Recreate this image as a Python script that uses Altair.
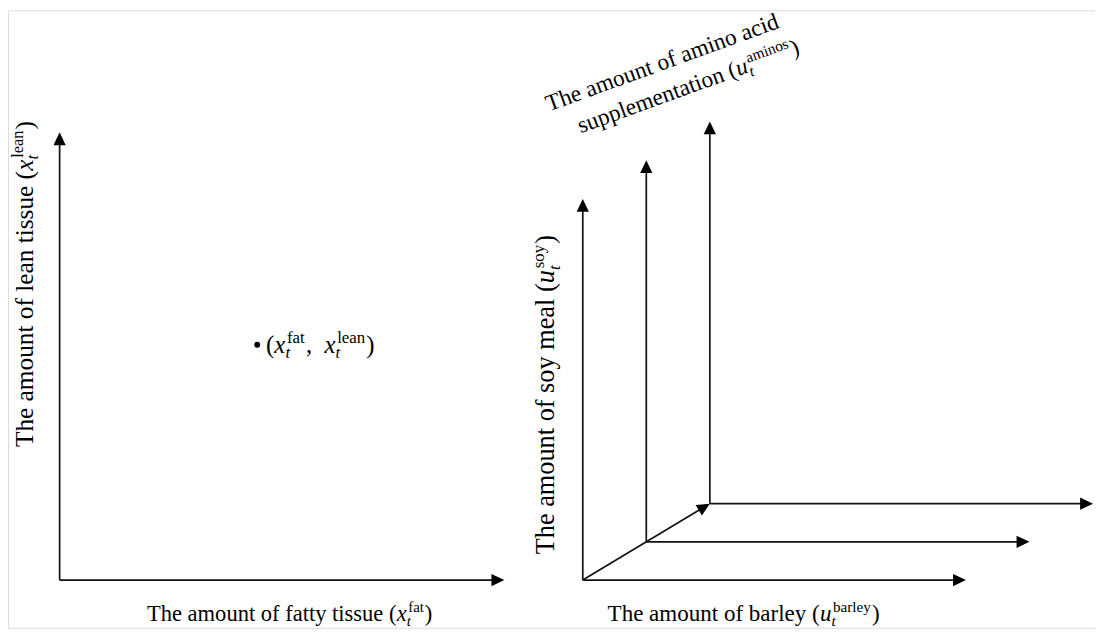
import math
import altair as alt
import pandas as pd

# ---------------- data (page coordinates of the diagram axes) ----------------
# left panel: origin, x-axis tip, y-axis tip
left_origin = (60, 582)
left_xtip = (508, 582)
left_ytip = (60, 131)
# right panel: three axis-corner points (origin shifted along a diagonal)
corner_x = [587, 651, 715]
corner_y = [582, 543.5, 505]
h_tip_x = [973, 1037, 1101]
v_tip_y = [198, 159, 120]
# the labelled state point
point_xy = (259, 345)

# ---------------- text ----------------
FONT = "Liberation Serif"

REG = {" ": 250, "(": 333, ")": 333, ",": 250, "T": 611, "a": 444, "b": 500, "c": 444,
       "d": 500, "e": 444, "f": 333, "g": 500, "h": 500, "i": 278, "j": 278, "k": 500,
       "l": 278, "m": 778, "n": 500, "o": 500, "p": 500, "q": 500, "r": 333, "s": 389,
       "t": 278, "u": 500, "v": 500, "w": 722, "x": 500, "y": 500, "z": 444}
ITA = {"x": 444, "u": 500, "t": 278}


def width(txt, size, italic=False):
    tab = ITA if italic else REG
    return sum(tab.get(c, REG.get(c, 500)) for c in txt) * size / 1000.0


def sym(var, sup):
    """variable with subscript t and upright superscript"""
    return [("v", var), ("subsup", sup)]


def compose(parts, x0, y0, angle, main=23.0, small=15.0):
    """rows of text runs laid along a baseline rotated by angle (deg, clockwise)"""
    a = math.radians(angle)
    dx, dy = math.cos(a), math.sin(a)
    px, py = -math.sin(a), math.cos(a)  # "down" direction of the glyphs
    rows = []
    cur = 0.0
    k = main / 23.0

    def put(txt, size, italic, off, shift=0.0):
        c = cur + shift
        rows.append(dict(text=txt, x=x0 + dx * c + px * off, y=y0 + dy * c + py * off,
                         size=size, italic=italic, angle=angle % 360))

    for kind, txt in parts:
        if kind == "r":
            put(txt, main, False, 0)
            cur += width(txt, main)
        elif kind == "v":
            put(txt, main, True, 0)
            cur += width(txt, main, True)
        elif kind == "subsup":
            put("t", small, True, 5 * k)
            put(txt, small, False, -9 * k, 1.5 * k)
            cur += max(width(txt, small) + 1.5 * k, width("t", small, True)) + 1.0 * k
    return rows


labels = []
labels += compose([("r", "The amount of fatty tissue (")] + sym("x", "fat") + [("r", ")")],
                  148, 623, 0, 22.7, 15)
labels += compose([("r", "The amount of barley (")] + sym("u", "barley") + [("r", ")")],
                  612, 623, 0, 23.2, 15.3)
labels += compose([("r", "The amount of lean tissue (")] + sym("x", "lean") + [("r", ")")],
                  33, 448, 270, 25.5, 16.5)
labels += compose([("r", "The amount of soy meal (")] + sym("u", "soy") + [("r", ")")],
                  558, 556, 270, 26.5, 17)
labels += compose([("r", "The amount of amino acid")], 553, 110, 340, 23.5, 15.5)
labels += compose([("r", "supplementation (")] + sym("u", "aminos") + [("r", ")")],
                  585, 132, 340, 23.5, 15.5)
labels += compose([("r", "(")] + sym("x", "fat") + [("r", ",  ")] + sym("x", "lean") + [("r", ")")],
                  268, 353, 0, 25, 17)
lab = pd.DataFrame(labels)

# ---------------- geometry tables ----------------
AL = 12  # arrowhead length, used to stop shafts at the head base
segs = []
arrows = []


def arrow(x1, y1, x2, y2):
    L = math.hypot(x2 - x1, y2 - y1)
    ex, ey = x2 - (x2 - x1) / L * AL, y2 - (y2 - y1) / L * AL
    segs.append(dict(x=x1, y=y1, x2=ex, y2=ey))
    ang = math.degrees(math.atan2(y2 - y1, x2 - x1)) % 360
    arrows.append(dict(x=x2, y=y2, angle=ang))


arrow(left_origin[0], left_origin[1], left_xtip[0], left_xtip[1])
arrow(left_origin[0], left_origin[1], left_ytip[0], left_ytip[1])
for cx, cy, hx, vy in zip(corner_x, corner_y, h_tip_x, v_tip_y):
    arrow(cx, cy, hx, cy)
    arrow(cx, cy, cx, vy)
arrow(corner_x[0], corner_y[0], corner_x[2], corner_y[2])
seg_df = pd.DataFrame(segs)
arr_df = pd.DataFrame(arrows)
pt_df = pd.DataFrame([dict(x=point_xy[0], y=point_xy[1])])

W, H = 1095, 622
xs = alt.Scale(domain=[8, 8 + W], nice=False, zero=False)
ys = alt.Scale(domain=[8, 8 + H], nice=False, zero=False, reverse=True)
X = lambda f="x": alt.X(f"{f}:Q", scale=xs, axis=None)
Y = lambda f="y": alt.Y(f"{f}:Q", scale=ys, axis=None)

shafts = alt.Chart(seg_df).mark_rule(color="#111", strokeWidth=1.7).encode(
    x=X(), y=Y(), x2="x2:Q", y2="y2:Q")

heads = alt.Chart(arr_df).mark_point(
    shape="M0,0L-2,-0.95L-2,0.95Z", filled=True, color="#000", opacity=1, size=169
).encode(x=X(), y=Y(), angle=alt.Angle("angle:Q", scale=None))

dot = alt.Chart(pt_df).mark_point(filled=True, color="#000", opacity=1, size=36,
                                  shape="circle").encode(x=X(), y=Y())


def text_layer(italic):
    return alt.Chart(lab[lab.italic == italic]).mark_text(
        font=FONT, align="left", baseline="alphabetic", color="#000",
        fontStyle="italic" if italic else "normal"
    ).encode(
        x=X(), y=Y(), text="text:N",
        size=alt.Size("size:Q", scale=None),
        angle=alt.Angle("angle:Q", scale=None),
    )


chart = alt.layer(shafts, heads, dot, text_layer(False), text_layer(True)).properties(
    width=W, height=H, padding=0, autosize=alt.AutoSizeParams(type="none")
).configure_view(stroke=None).configure(background="white")

chart.save("out.html", embed_options={"renderer": "svg", "actions": False})
